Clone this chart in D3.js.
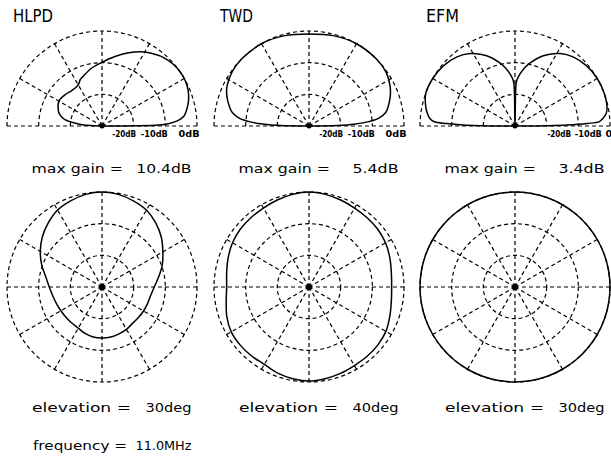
<!DOCTYPE html>
<html><head><meta charset="utf-8">
<script src="https://cdn.jsdelivr.net/npm/d3@7"></script>
<style>
html,body{margin:0;padding:0;background:#fff;}
svg{display:block;}
text{font-family:"DejaVu Sans",sans-serif;fill:#000;}
</style></head><body>
<svg id="chart" width="611" height="458"></svg>
<script>
// ---- labels ----
const antennas = ["HLPD", "TWD", "EFM"];
const maxGainValues = ["10.4dB", "5.4dB", "3.4dB"];
const elevationValues = ["30deg", "40deg", "30deg"];
const frequencyValue = "11.0MHz";
const dbTicks = [-20, -10, 0];
const dbTickLabels = ["-20dB", "-10dB", "0dB"];
const elevSpokes = [0, 30, 60, 90, 120, 150, 180];
const azSpokes = [0, 30, 60, 90, 120, 150, 180, 210, 240, 270, 300, 330];

// ---- elevation patterns (deg above horizon, dB relative to max) ----
const hlpdElevAngle = [0, 1, 2, 4, 7, 10, 15, 20, 25, 30, 35, 40, 45, 50, 55, 60, 70, 80, 90, 100, 110, 115, 120, 130, 140, 150, 160, 165, 170, 175, 178, 180];
const hlpdElevGain  = [-30, -12, -9, -6, -3.9, -3, -1.8, -0.9, -0.3, 0, 0, -0.15, -0.6, -1.2, -2.1, -3, -5.4, -7.8, -9.9, -11.4, -13.1, -13.8, -15, -15.3, -14.7, -14.3, -15.3, -16.2, -18, -22.5, -26.4, -30];

const twdElevAngle = [0, 1, 2.5, 4, 6.5, 10, 14, 20, 26, 35, 45, 60, 75, 90, 105, 120, 135, 145, 154, 160, 166, 170, 173.5, 176, 177.5, 179, 180];
const twdElevGain  = [-30, -21, -15.3, -11.4, -7.8, -5.4, -4.2, -2.7, -1.5, -0.3, 0, 0, -0.45, -0.96, -0.45, 0, 0, -0.3, -1.2, -2.4, -4.05, -5.4, -7.8, -11.4, -15.3, -21, -30];

const efmElevAngle = [0, 0.5, 1, 2, 3, 5, 8, 12, 20, 30, 40, 50, 58, 65, 71, 76, 80, 84, 87, 88.5, 90, 91.5, 93, 96, 100, 104, 109, 115, 122, 130, 140, 150, 160, 168, 172, 175, 177, 178, 179, 179.5, 180];
const efmElevGain  = [-30, -19.5, -13.5, -7.2, -3.3, -2.1, -0.9, -0.3, 0, 0, -0.45, -1.5, -3, -5.1, -7.2, -9.3, -11.1, -13.2, -15, -16.5, -30, -16.5, -15, -13.2, -11.1, -9.3, -7.2, -5.1, -3, -1.5, -0.45, 0, 0, -1.2, -2.1, -3, -4.5, -8.4, -13.5, -19.5, -30];

// ---- azimuth patterns (deg clockwise from forward, dB relative to max) ----
const azAngle = [0, 10, 20, 30, 40, 50, 60, 70, 80, 90, 100, 110, 120, 130, 140, 150, 160, 170, 180, 190, 200, 210, 220, 230, 240, 250, 260, 270, 280, 290, 300, 310, 320, 330, 340, 350];
const hlpdAzGain = [0, -0.3, -1.05, -1.95, -3.6, -5.55, -7.8, -9.75, -11.85, -13.5, -14.4, -14.7, -14.85, -15, -15, -14.55, -14.25, -13.95, -13.9, -13.95, -14.4, -15, -15.15, -15.15, -15, -14.7, -14.2, -13.35, -12, -9.75, -7.5, -5.4, -3.6, -1.95, -1.05, -0.3];
const twdAzGain  = [0, -0.3, -0.75, -1.2, -1.44, -1.65, -2.1, -2.85, -3.6, -3.9, -3.6, -2.85, -1.95, -1.59, -1.44, -1.35, -0.96, -0.6, -0.3, -0.6, -1.05, -1.8, -1.65, -1.56, -1.65, -2.4, -3.45, -4.0, -3.6, -2.85, -2.1, -1.65, -1.44, -1.2, -0.75, -0.3];
const efmAzGain  = [0, 0, 0, 0, 0, 0, 0, 0, 0, 0, 0, 0, 0, 0, 0, 0, 0, 0, 0, 0, 0, 0, 0, 0, 0, 0, 0, 0, 0, 0, 0, 0, 0, 0, 0, 0];

const elevPatterns = [
  {angle: hlpdElevAngle, gain: hlpdElevGain},
  {angle: twdElevAngle, gain: twdElevGain},
  {angle: efmElevAngle, gain: efmElevGain}
];
const azPatterns = [hlpdAzGain, twdAzGain, efmAzGain];

// ---- layout ----
const svg = d3.select("#chart");
const colX = [102, 309, 515];
const topCy = 126, botCy = 287;
const R = 95;
// horizontal nudge of each ring label, per panel (the right panel runs to the page edge)
const dbLabelShift = [[0, 0, 0], [0, 0, 0], [22, 21, 14]];
const dbLabelWidth = [24, 27, 21];
const dash = "4,3";

const rScale = d3.scaleLinear().domain([-30, 0]).range([0, R]).clamp(true);
const rad = d => d * Math.PI / 180;

const elevLine = d3.lineRadial()
  .angle(d => rad(90 - d[0]))
  .radius(d => rScale(d[1]))
  .curve(d3.curveCatmullRom.alpha(0.5));

const azLine = d3.lineRadial()
  .angle(d => rad(d[0]))
  .radius(d => rScale(d[1]))
  .curve(d3.curveCatmullRomClosed.alpha(0.5));

antennas.forEach((name, i) => {
  const cx = colX[i];

  // title
  svg.append("text").attr("x", cx - 89).attr("y", 21.5)
    .attr("font-size", 18).attr("textLength", 40 - (name.length === 3 ? 7 : 0))
    .attr("lengthAdjust", "spacingAndGlyphs").text(name);

  // --- elevation (upper half plane) ---
  const gt = svg.append("g").attr("transform", `translate(${cx},${topCy})`);
  dbTicks.forEach(t => {
    const r = rScale(t);
    const p = d3.path();
    p.moveTo(-r, 0);
    p.arc(0, 0, r, Math.PI, 2 * Math.PI);
    gt.append("path").attr("d", p.toString()).attr("fill", "none")
      .attr("stroke", "#000").attr("stroke-width", 1.2).attr("stroke-dasharray", dash);
  });
  elevSpokes.forEach(a => {
    gt.append("line").attr("x1", 0).attr("y1", 0)
      .attr("x2", R * Math.cos(rad(a))).attr("y2", -R * Math.sin(rad(a)))
      .attr("stroke", "#000").attr("stroke-width", 1.2).attr("stroke-dasharray", dash);
  });
  const ep = elevPatterns[i];
  gt.append("path").datum(ep.angle.map((a, k) => [a, ep.gain[k]]))
    .attr("d", elevLine).attr("fill", "none").attr("stroke", "#000").attr("stroke-width", 1.5);
  gt.append("circle").attr("r", 2.5).attr("fill", "#000");

  // dB ring labels along the baseline
  dbTicks.forEach((t, k) => {
    gt.append("text").attr("x", rScale(t) + 2.5 + dbLabelShift[i][k]).attr("y", 10.5)
      .attr("text-anchor", "end").attr("font-size", 8.5).attr("font-weight", "bold")
      .attr("textLength", dbLabelWidth[k]).attr("lengthAdjust", "spacingAndGlyphs")
      .text(dbTickLabels[k]);
  });

  // max gain
  svg.append("text").attr("x", cx - 70.5).attr("y", 173.3).attr("font-size", 13)
    .attr("textLength", 91.5).attr("lengthAdjust", "spacingAndGlyphs").text("max gain =");
  svg.append("text").attr("x", cx + 89.5).attr("y", 173.3).attr("font-size", 13)
    .attr("text-anchor", "end").attr("textLength", maxGainValues[i].length * 9.2)
    .attr("lengthAdjust", "spacingAndGlyphs").text(maxGainValues[i]);

  // --- azimuth (full circle) ---
  const gb = svg.append("g").attr("transform", `translate(${cx},${botCy})`);
  dbTicks.forEach(t => {
    gb.append("circle").attr("r", rScale(t)).attr("fill", "none")
      .attr("stroke", "#000").attr("stroke-width", 1.2).attr("stroke-dasharray", dash);
  });
  azSpokes.forEach(a => {
    gb.append("line").attr("x1", 0).attr("y1", 0)
      .attr("x2", R * Math.sin(rad(a))).attr("y2", -R * Math.cos(rad(a)))
      .attr("stroke", "#000").attr("stroke-width", 1.2).attr("stroke-dasharray", dash);
  });
  gb.append("path").datum(azAngle.map((a, k) => [a, azPatterns[i][k]]))
    .attr("d", azLine).attr("fill", "none").attr("stroke", "#000").attr("stroke-width", 1.5);
  gb.append("circle").attr("r", 3).attr("fill", "#000");

  // elevation label
  svg.append("text").attr("x", cx - 70).attr("y", 412).attr("font-size", 13)
    .attr("textLength", 99).attr("lengthAdjust", "spacingAndGlyphs").text("elevation =");
  svg.append("text").attr("x", cx + 89.5).attr("y", 412).attr("font-size", 13)
    .attr("text-anchor", "end").attr("textLength", 46)
    .attr("lengthAdjust", "spacingAndGlyphs").text(elevationValues[i]);
});

// frequency
svg.append("text").attr("x", colX[0] - 69).attr("y", 450).attr("font-size", 13)
  .attr("textLength", 94).attr("lengthAdjust", "spacingAndGlyphs").text("frequency =");
svg.append("text").attr("x", colX[0] + 89.5).attr("y", 450).attr("font-size", 13)
  .attr("text-anchor", "end").attr("textLength", 56)
  .attr("lengthAdjust", "spacingAndGlyphs").text(frequencyValue);
</script>
</body></html>
